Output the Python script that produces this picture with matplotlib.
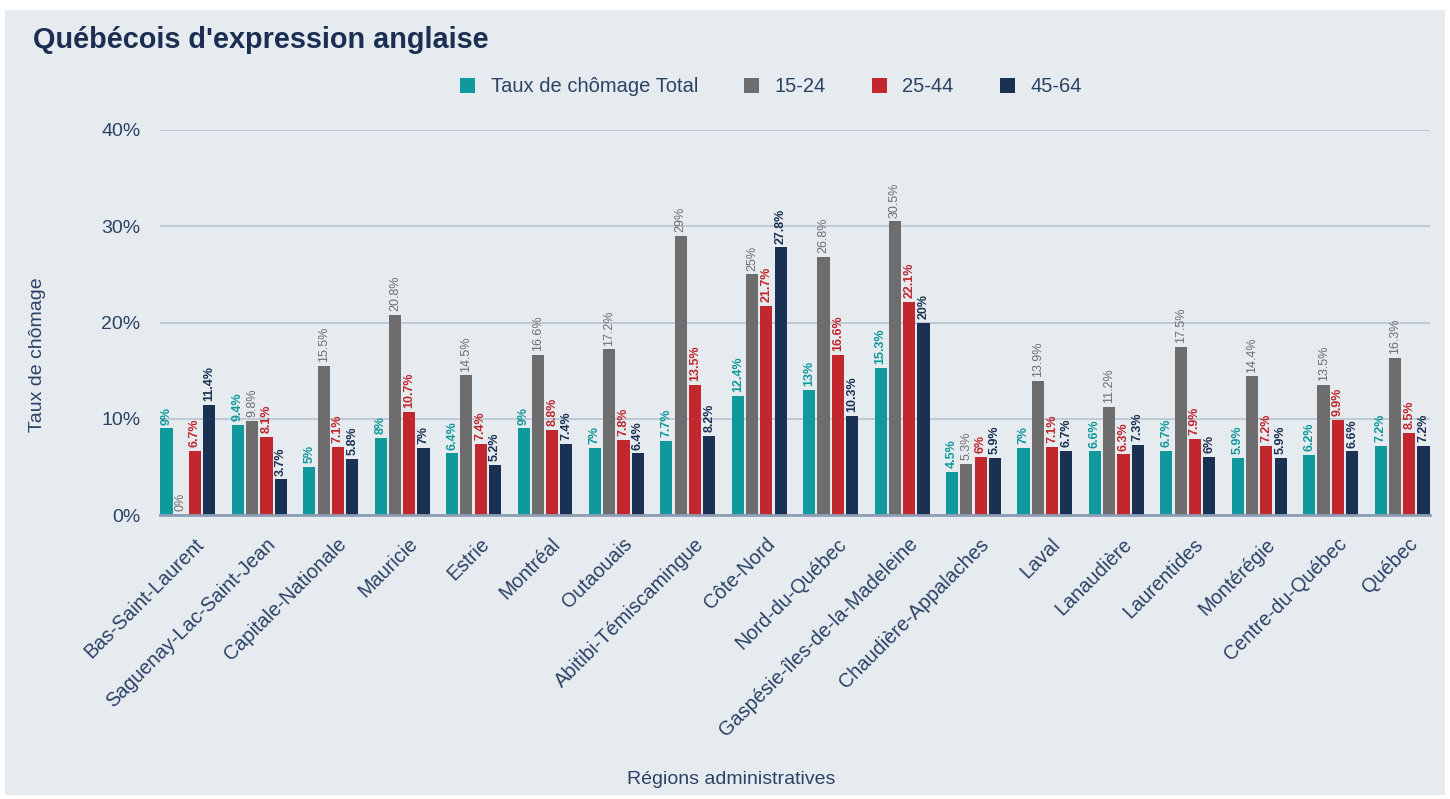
import numpy as np
import matplotlib
matplotlib.use("Agg")
import matplotlib.pyplot as plt
import matplotlib.transforms as mtransforms
from matplotlib.patches import Rectangle

regions = [
    "Bas-Saint-Laurent", "Saguenay-Lac-Saint-Jean", "Capitale-Nationale", "Mauricie",
    "Estrie", "Montréal", "Outaouais", "Abitibi-Témiscamingue", "Côte-Nord",
    "Nord-du-Québec", "Gaspésie-îles-de-la-Madeleine", "Chaudière-Appalaches",
    "Laval", "Lanaudière", "Laurentides", "Montérégie", "Centre-du-Québec", "Québec",
]
total = [9, 9.4, 5, 8, 6.4, 9, 7, 7.7, 12.4, 13, 15.3, 4.5, 7, 6.6, 6.7, 5.9, 6.2, 7.2]
age_15_24 = [0, 9.8, 15.5, 20.8, 14.5, 16.6, 17.2, 29, 25, 26.8, 30.5, 5.3, 13.9, 11.2, 17.5, 14.4, 13.5, 16.3]
age_25_44 = [6.7, 8.1, 7.1, 10.7, 7.4, 8.8, 7.8, 13.5, 21.7, 16.6, 22.1, 6, 7.1, 6.3, 7.9, 7.2, 9.9, 8.5]
age_45_64 = [11.4, 3.7, 5.8, 7, 5.2, 7.4, 6.4, 8.2, 27.8, 10.3, 20, 5.9, 6.7, 7.3, 6, 5.9, 6.6, 7.2]

series_names = ["Taux de chômage Total", "15-24", "25-44", "45-64"]
series = [total, age_15_24, age_25_44, age_45_64]
colors = ["#0f999c", "#6d6d6d", "#c1272d", "#1b3153"]

bg = "#e6ebf0"
text_color = "#2b4266"

plt.rcParams["font.family"] = ["Liberation Sans", "DejaVu Sans"]

fig = plt.figure(figsize=(14.5, 7.99), dpi=100, facecolor="white")
fig.patches.append(Rectangle((5 / 1450, 4 / 799), 1440 / 1450, 785 / 799,
                             transform=fig.transFigure, facecolor=bg,
                             edgecolor="none", zorder=-10))

ax = fig.add_axes([160 / 1450, 1 - 515 / 799, 1270 / 1450, 385 / 799])
ax.set_facecolor(bg)

x = np.arange(len(regions))
offsets = [-0.3, -0.1, 0.1, 0.3]
width = 0.17

for name, vals, color, off in zip(series_names, series, colors, offsets):
    ax.bar(x + off, vals, width=width, color=color, label=name, zorder=3)
    for xi, v in zip(x, vals):
        label = f"{v:g}%"
        ax.text(xi + off, v + 0.4, label, rotation=90, ha="center", va="bottom",
                fontsize=9, color=color,
                fontweight="normal" if color == "#6d6d6d" else "bold", zorder=4)

ax.set_ylim(0, 40)
ax.set_xlim(-0.39, len(regions) - 1 + 0.39)
ax.set_yticks([0, 10, 20, 30, 40])
ax.set_yticklabels(["0%", "10%", "20%", "30%", "40%"])
ax.grid(axis="y", color="#b9c3d3", linewidth=1.2, zorder=0)
ax.set_axisbelow(True)
for s in ["top", "right", "left"]:
    ax.spines[s].set_visible(False)
ax.spines["bottom"].set_color("#8d9db5")
ax.spines["bottom"].set_linewidth(2)
ax.spines["bottom"].set_zorder(5)

ax.tick_params(axis="y", length=0, pad=14, labelsize=14, labelcolor=text_color)
ax.tick_params(axis="x", length=0, pad=14, labelsize=14.3, labelcolor=text_color)
ax.set_xticks(x)
ax.set_xticklabels(regions, rotation=45, ha="right", rotation_mode="anchor")
shift = mtransforms.ScaledTranslation(6 / 100, 0, fig.dpi_scale_trans)
for lbl in ax.get_xticklabels():
    lbl.set_transform(lbl.get_transform() + shift)

fig.text(33 / 1450, 1 - 40 / 799, "Québécois d'expression anglaise", fontsize=20.8,
         fontweight="bold", color="#1b2f52", va="center", ha="left")
fig.text(38 / 1450, 1 - 355 / 799, "Taux de chômage", rotation=90, fontsize=14,
         color=text_color, va="center", ha="center")
fig.text(731 / 1450, 1 - 780 / 799, "Régions administratives", fontsize=14,
         color=text_color, va="center", ha="center")

fig.legend(loc="center", bbox_to_anchor=(771 / 1450, 1 - 87 / 799), ncol=4,
           frameon=False, fontsize=14.5, labelcolor=text_color, handlelength=0.75,
           handleheight=0.75, handletextpad=0.75, columnspacing=2.3)

fig.savefig("out.png", dpi=100, facecolor=fig.get_facecolor())
